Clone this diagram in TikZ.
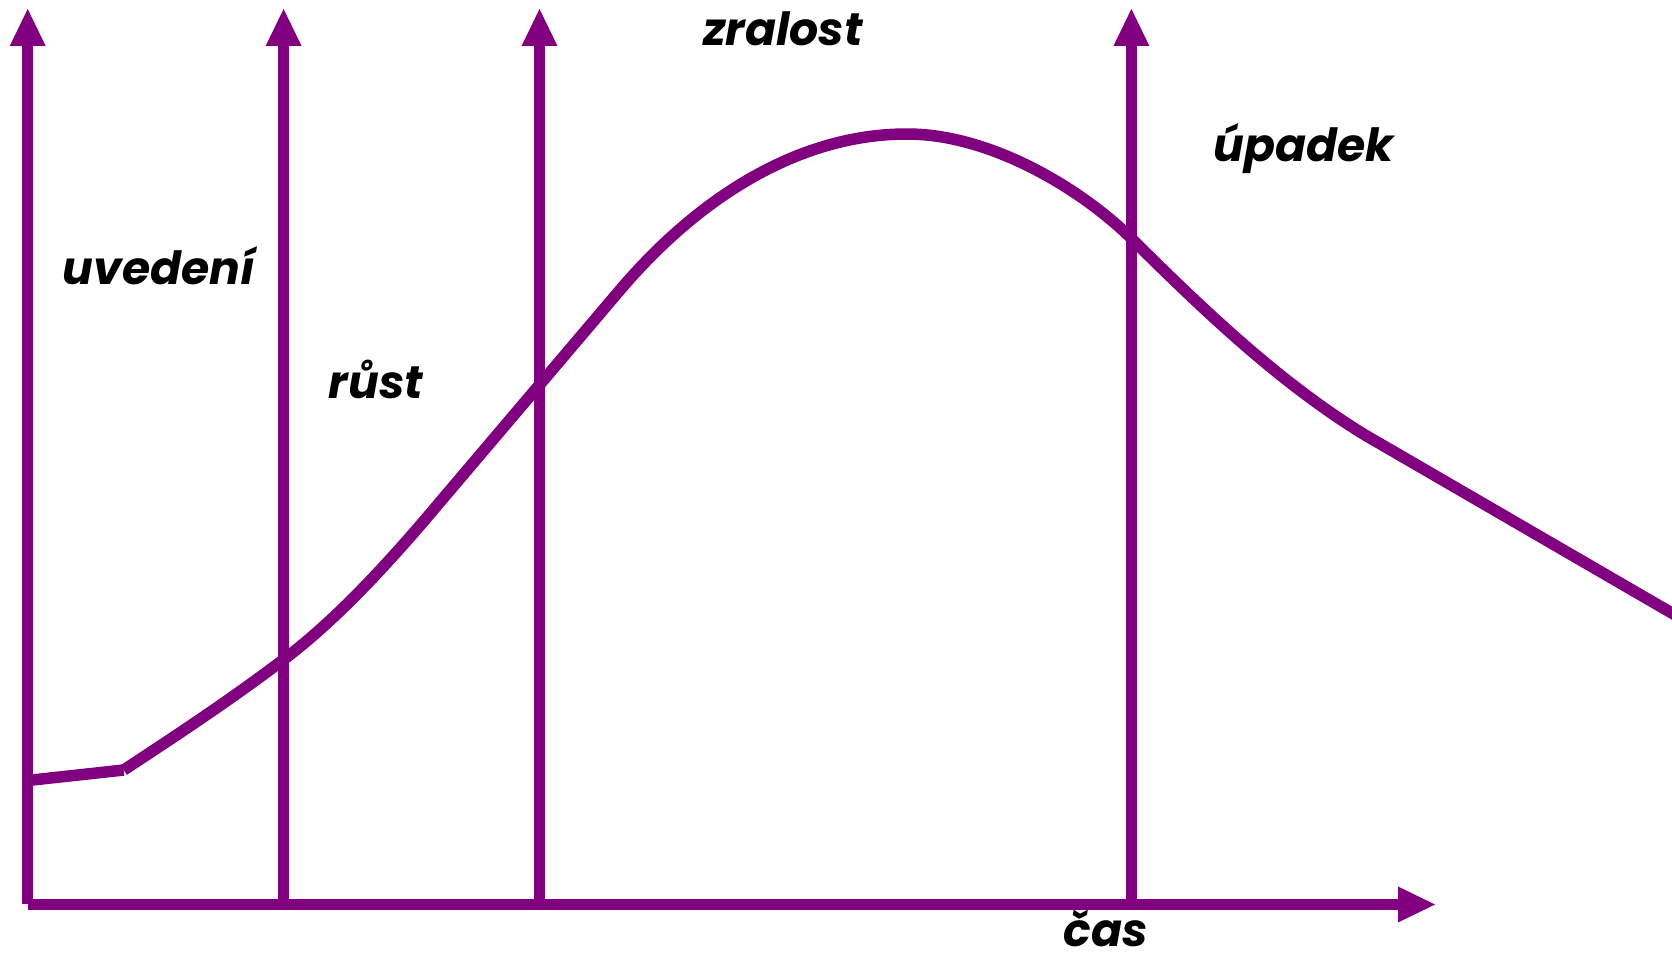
\documentclass[tikz,border=0pt]{standalone}
\usepackage{xcolor}
\usepackage{fontspec}
\setmainfont{Poppins}
\usepackage{tikz}
\usetikzlibrary{arrows.meta, positioning}
\definecolor{phaseline}{RGB}{128,0,128}

\begin{document}
\begin{tikzpicture}[x=0.02cm, y=-0.02cm,
    axis/.style={draw=phaseline, line width=0.23cm, -{Triangle[length=0.74cm, width=0.72cm, line width=0pt]}},
    lifecurve/.style={draw=phaseline, line width=0.23cm},
    phase/.style={font=\fontsize{26}{31}\selectfont\bfseries\itshape, anchor=base, inner sep=0pt}]
    \useasboundingbox (0,0) rectangle (1672,953);

    % axes
    \coordinate (origin) at (27.7,904.5);
    \coordinate (timeend) at (1435,904.5);
    \coordinate (salestop) at (27.7,9);
    \coordinate (cut1) at (283.6,904.5);
    \coordinate (cut1top) at (283.6,9);
    \coordinate (cut2) at (539.5,904.5);
    \coordinate (cut2top) at (539.5,9);
    \coordinate (cut3) at (1131.4,904.5);
    \coordinate (cut3top) at (1131.4,9);

    \draw[axis] ([yshift=0.01cm]origin) -- (salestop);
    \draw[axis] (cut1) -- (cut1top);
    \draw[axis] (cut2) -- (cut2top);
    \draw[axis] (cut3) -- (cut3top);
    \draw[axis] (origin) -- (timeend);

    % the curve
    \coordinate (start) at (27.7,780.5);
    \coordinate (kink) at (123.7,770);
    \coordinate (peak) at (907,134);
    \draw[lifecurve] (start) -- (kink);
    \draw[lifecurve] (kink) .. controls (177,735) and (230,700) .. (283,660)
        .. controls (335,621) and (388,564) .. (440,502)
        -- (620,290)
        .. controls (700,196) and (800,134) .. (peak)
        .. controls (990,134) and (1080,188) .. (1131,238)
        .. controls (1220,327) and (1290,389) .. (1365,435)
        -- (1720,641);

    % labels
    \node[phase] (intro) at (159,284) {uvedení};
    \node[phase] (growth) at (376,398) {růst};
    \node[phase] (maturity) at (783,46) {zralost};
    \node[phase] (decline) at (1304,161) {úpadek};
    \node[phase] (time) at (1106,946) {čas};
\end{tikzpicture}
\end{document}
